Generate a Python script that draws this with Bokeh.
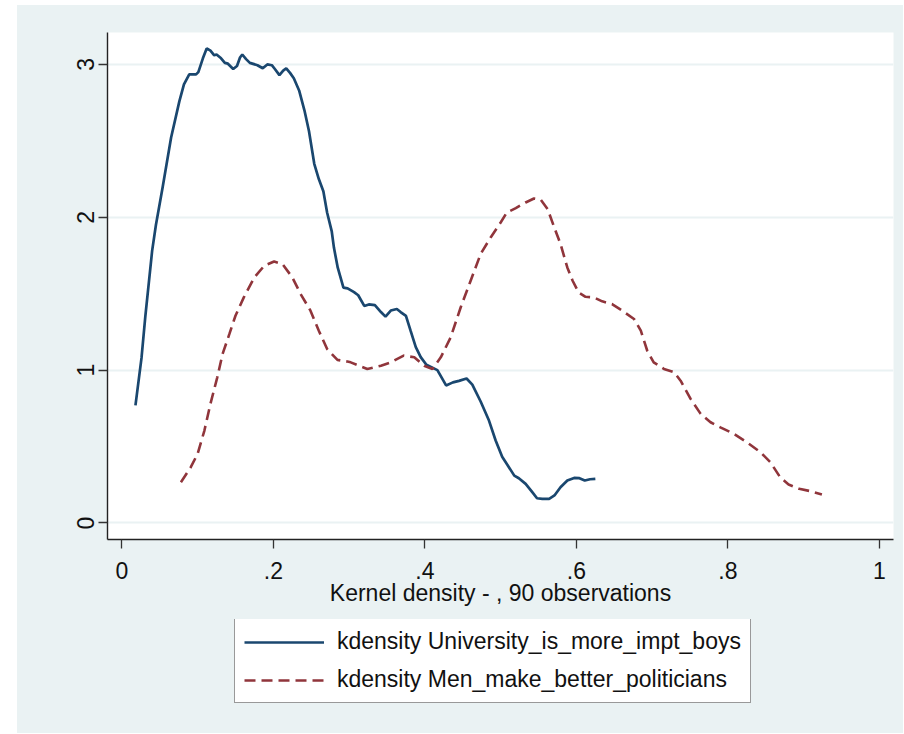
from bokeh.plotting import figure
from bokeh.models import Range1d, FixedTicker, Legend, LegendItem, Spacer
from bokeh.layouts import row, column
from bokeh.embed import file_html
from bokeh.resources import INLINE

# ---- data ----
univ_x = [0.018, 0.026, 0.031, 0.040, 0.045, 0.054, 0.065, 0.076, 0.082, 0.089,
          0.098, 0.101, 0.107, 0.112, 0.117, 0.122, 0.125, 0.131, 0.136, 0.140,
          0.147, 0.152, 0.156, 0.159, 0.164, 0.169, 0.179, 0.186, 0.192, 0.198,
          0.202, 0.208, 0.213, 0.217, 0.222, 0.227, 0.234, 0.241, 0.247, 0.254,
          0.260, 0.266, 0.271, 0.277, 0.280, 0.285, 0.2925, 0.298, 0.3065, 0.312,
          0.320, 0.326, 0.334, 0.342, 0.348, 0.355, 0.363, 0.368, 0.375, 0.381,
          0.388, 0.3945, 0.402, 0.4165, 0.428, 0.437, 0.445, 0.455, 0.4626, 0.4736,
          0.4846, 0.4934, 0.502, 0.509, 0.518, 0.524, 0.533, 0.542, 0.548, 0.555,
          0.564, 0.571, 0.579, 0.588, 0.597, 0.604, 0.611, 0.618, 0.625]
univ_y = [0.77, 1.08, 1.35, 1.78, 1.95, 2.20, 2.52, 2.76, 2.87, 2.935,
          2.935, 2.95, 3.04, 3.105, 3.09, 3.06, 3.065, 3.04, 3.01, 3.005,
          2.97, 2.99, 3.045, 3.065, 3.035, 3.01, 2.995, 2.975, 3.00, 2.995,
          2.97, 2.93, 2.96, 2.975, 2.945, 2.91, 2.83, 2.70, 2.565, 2.35,
          2.25, 2.17, 2.03, 1.91, 1.80, 1.67, 1.54, 1.535, 1.51, 1.49,
          1.42, 1.43, 1.425, 1.38, 1.35, 1.39, 1.40, 1.38, 1.355, 1.26,
          1.15, 1.085, 1.035, 1.00, 0.90, 0.92, 0.93, 0.945, 0.905, 0.795,
          0.67, 0.54, 0.433, 0.38, 0.31, 0.293, 0.256, 0.20, 0.162, 0.158,
          0.158, 0.18, 0.234, 0.278, 0.295, 0.293, 0.278, 0.286, 0.289]

men_x = [0.078, 0.091, 0.100, 0.109, 0.117, 0.126, 0.133, 0.142, 0.150, 0.161,
         0.175, 0.188, 0.201, 0.212, 0.225, 0.236, 0.249, 0.260, 0.271, 0.2846,
         0.2977, 0.3021, 0.324, 0.342, 0.355, 0.372, 0.386, 0.399, 0.410, 0.421,
         0.434, 0.4472, 0.4604, 0.4736, 0.4868, 0.500, 0.508, 0.520, 0.533, 0.544,
         0.553, 0.562, 0.570, 0.579, 0.588, 0.595, 0.603, 0.612, 0.623, 0.634,
         0.647, 0.6605, 0.676, 0.685, 0.6935, 0.702, 0.7155, 0.729, 0.7375, 0.7507,
         0.764, 0.777, 0.790, 0.808, 0.825, 0.843, 0.856, 0.869, 0.880, 0.894,
         0.909, 0.924]
men_y = [0.267, 0.365, 0.452, 0.605, 0.78, 0.953, 1.106, 1.237, 1.356, 1.476,
         1.607, 1.683, 1.711, 1.694, 1.607, 1.498, 1.389, 1.258, 1.138, 1.067,
         1.056, 1.051, 1.008, 1.029, 1.051, 1.095, 1.084, 1.029, 1.008, 1.084,
         1.214, 1.41, 1.585, 1.76, 1.868, 1.966, 2.03, 2.06, 2.097, 2.123,
         2.114, 2.054, 1.944, 1.825, 1.672, 1.585, 1.508, 1.48, 1.476, 1.45,
         1.432, 1.389, 1.335, 1.258, 1.127, 1.051, 1.008, 0.986, 0.931, 0.812,
         0.714, 0.659, 0.626, 0.583, 0.528, 0.463, 0.397, 0.299, 0.252, 0.224,
         0.208, 0.186]

x_ticks = [0, 0.2, 0.4, 0.6, 0.8, 1.0]
x_tick_labels = ["0", ".2", ".4", ".6", ".8", "1"]
y_ticks = [0, 1, 2, 3]
y_tick_labels = ["0", "1", "2", "3"]

series_labels = ["kdensity University_is_more_impt_boys",
                 "kdensity Men_make_better_politicians"]
x_title = "Kernel density - , 90 observations"

FONT = "'Liberation Sans', Arial, sans-serif"
BG = "#EAF2F3"
BLUE = "#1A476F"
RED = "#90353B"
DASH = "11 6"

FIG_W = 886
MAIN_H = 614
LEG_H = 114

# ---------------- main plot ----------------
p = figure(width=FIG_W, height=MAIN_H, output_backend="svg", toolbar_location=None,
           x_range=Range1d(-0.0189, 1.0185), y_range=Range1d(-0.108, 3.209),
           min_border_left=90, min_border_right=10, min_border_top=27,
           min_border_bottom=80, title=None)
p.border_fill_color = BG
p.background_fill_color = "white"
p.outline_line_color = None

p.line(univ_x, univ_y, line_color=BLUE, line_width=2.7)
p.line(men_x, men_y, line_color=RED, line_width=2.6, line_dash=DASH)

for ax in (p.xaxis[0], p.yaxis[0]):
    ax.axis_line_color = "#222222"
    ax.axis_line_width = 1.4
    ax.major_tick_line_color = "#333333"
    ax.major_tick_line_width = 1.3
    ax.major_tick_out = 9
    ax.major_tick_in = 0
    ax.minor_tick_line_color = None
    ax.major_label_text_font = FONT
    ax.major_label_text_font_size = "23px"
    ax.major_label_text_color = "#111111"

p.xaxis.ticker = FixedTicker(ticks=x_ticks)
p.xaxis.major_label_overrides = {t: l for t, l in zip(x_ticks, x_tick_labels)}
p.xaxis.major_label_standoff = 13
p.xaxis.axis_label = x_title
p.xaxis.axis_label_text_font = FONT
p.xaxis.axis_label_text_font_size = "23px"
p.xaxis.axis_label_text_font_style = "normal"
p.xaxis.axis_label_text_color = "#111111"
p.xaxis.axis_label_standoff = -2

p.yaxis.ticker = FixedTicker(ticks=y_ticks)
p.yaxis.major_label_overrides = {t: l for t, l in zip(y_ticks, y_tick_labels)}
p.yaxis.major_label_orientation = "vertical"
p.yaxis.major_label_standoff = 4

p.xgrid.grid_line_color = None
p.ygrid.ticker = FixedTicker(ticks=y_ticks)
p.ygrid.grid_line_color = BG
p.ygrid.grid_line_width = 2.2

# ---------------- legend strip ----------------
lg = figure(width=FIG_W, height=LEG_H, output_backend="svg", toolbar_location=None,
            x_range=Range1d(0, 1), y_range=Range1d(0, 1),
            x_axis_type=None, y_axis_type=None,
            min_border_left=0, min_border_right=0, min_border_top=0,
            min_border_bottom=0, title=None)
lg.border_fill_color = BG
lg.background_fill_color = BG
lg.outline_line_color = None
lg.grid.visible = False

k1 = lg.line(univ_x, univ_y, line_color=BLUE, line_width=2.7, visible=False)
k2 = lg.line(men_x, men_y, line_color=RED, line_width=2.6, line_dash=DASH,
             visible=False)

legend = Legend(items=[LegendItem(label=series_labels[0], renderers=[k1]),
                       LegendItem(label=series_labels[1], renderers=[k2])],
                location=(217, 30), orientation="vertical")
legend.label_text_font = FONT
legend.label_text_font_size = "23px"
legend.label_text_color = "#111111"
legend.glyph_width = 80
legend.glyph_height = 26
legend.label_height = 26
legend.label_standoff = 13
legend.spacing = 11
legend.padding = 9
legend.margin = 0
legend.border_line_color = "#333333"
legend.border_line_width = 1.2
legend.background_fill_color = "white"
legend.background_fill_alpha = 1.0
legend.inactive_fill_alpha = 0.0
lg.add_layout(legend, "center")

white = {"background-color": "white"}
layout = column(Spacer(width=FIG_W + 17, height=5, styles=white),
                row(Spacer(width=17, height=MAIN_H, styles=white), p),
                row(Spacer(width=17, height=LEG_H, styles=white), lg),
                styles={"background-color": BG}, spacing=0)
open("out.html", "w").write(file_html(layout, INLINE))
